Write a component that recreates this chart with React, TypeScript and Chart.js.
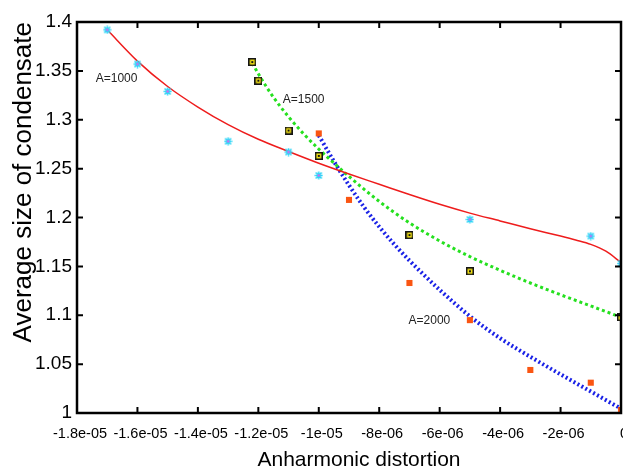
import { useEffect, useRef } from "react";
import { Chart, registerables } from "chart.js";

Chart.register(...registerables);

// ---- tick values / labels ----
const xTickValues = [-1.8e-5, -1.6e-5, -1.4e-5, -1.2e-5, -1e-5, -8e-6, -6e-6, -4e-6, -2e-6, 0];
const xTickLabels = ["-1.8e-05", "-1.6e-05", "-1.4e-05", "-1.2e-05", "-1e-05", "-8e-06", "-6e-06", "-4e-06", "-2e-06", "0"];
const yTickValues = [1, 1.05, 1.1, 1.15, 1.2, 1.25, 1.3, 1.35, 1.4];
const yTickLabels = ["1", "1.05", "1.1", "1.15", "1.2", "1.25", "1.3", "1.35", "1.4"];
const xTitle = "Anharmonic distortion";
const yTitle = "Average size of condensate";

// ---- measured points ----
const a1000X = [-17e-6, -16e-6, -15e-6, -13e-6, -11e-6, -10e-6, -5e-6, -1e-6, 0];
const a1000Y = [1.392, 1.357, 1.329, 1.278, 1.267, 1.243, 1.198, 1.181, 1.153];

const a1500X = [-12.2e-6, -12e-6, -11e-6, -10e-6, -7e-6, -5e-6, 0];
const a1500Y = [1.359, 1.34, 1.289, 1.263, 1.182, 1.145, 1.098];

const a2000X = [-10e-6, -9e-6, -7e-6, -5e-6, -3e-6, -1e-6, 0];
const a2000Y = [1.286, 1.218, 1.133, 1.095, 1.044, 1.031, 1.003];

// ---- fitted curves ----
const fit1000X = [-17e-6, -16e-6, -15e-6, -14e-6, -13e-6, -12e-6, -11e-6, -10e-6, -9e-6, -8e-6, -7e-6, -6e-6, -5e-6, -4e-6, -3e-6, -2e-6, -1.5e-6, -1e-6, -0.5e-6, 0];
const fit1000Y = [1.392, 1.36, 1.334, 1.313, 1.295, 1.28, 1.2675, 1.2555, 1.2445, 1.234, 1.2235, 1.2135, 1.2045, 1.1965, 1.1885, 1.181, 1.177, 1.1725, 1.1655, 1.154];

const fit1500X = [-12.2e-6, -12e-6, -11.5e-6, -11e-6, -10.5e-6, -10e-6, -9e-6, -8e-6, -7e-6, -6e-6, -5e-6, -4e-6, -3e-6, -2e-6, -1e-6, 0];
const fit1500Y = [1.358, 1.347, 1.323, 1.303, 1.2855, 1.27, 1.242, 1.2165, 1.1945, 1.176, 1.16, 1.146, 1.133, 1.121, 1.1095, 1.098];

const fit2000X = [-10e-6, -9.5e-6, -9e-6, -8.5e-6, -8e-6, -7.5e-6, -7e-6, -6e-6, -5e-6, -4e-6, -3e-6, -2e-6, -1e-6, 0];
const fit2000Y = [1.284, 1.2575, 1.233, 1.2105, 1.1905, 1.1725, 1.156, 1.126, 1.099, 1.0765, 1.0575, 1.0395, 1.022, 1.0045];

// ---- annotations ----
const noteTexts = ["A=1000", "A=1500", "A=2000"];
const noteX = [-17.38e-6, -11.19e-6, -7.03e-6];
const noteY = [1.3415, 1.321, 1.0946];

const FONT = "'Liberation Sans', Arial, Helvetica, sans-serif";

function pts(xs: number[], ys: number[]) {
  return xs.map((x, i) => ({ x, y: ys[i] }));
}

function makeAsterisk() {
  const c = document.createElement("canvas");
  c.width = 9;
  c.height = 9;
  const g = c.getContext("2d")!;
  g.strokeStyle = "#2fd6f7";
  g.lineWidth = 1.6;
  g.beginPath();
  g.moveTo(4.5, 0.5); g.lineTo(4.5, 8.5);
  g.moveTo(0.5, 4.5); g.lineTo(8.5, 4.5);
  g.moveTo(1.5, 1.5); g.lineTo(7.5, 7.5);
  g.moveTo(7.5, 1.5); g.lineTo(1.5, 7.5);
  g.stroke();
  g.fillStyle = "#ff48f0";
  g.fillRect(3.5, 3.5, 2, 2);
  return c;
}

function makeYellowSquare() {
  const c = document.createElement("canvas");
  c.width = 8;
  c.height = 8;
  const g = c.getContext("2d")!;
  g.fillStyle = "#151515";
  g.fillRect(0, 0, 8, 8);
  g.fillStyle = "#f4e313";
  g.fillRect(1.5, 1.5, 5, 5);
  g.fillStyle = "#151515";
  g.fillRect(3, 3, 2, 2);
  return c;
}

const framePlugin = {
  id: "frameTicks",
  afterDatasetsDraw(chart: any) {
    const { ctx, chartArea, scales } = chart;
    const { left, top, right, bottom } = chartArea;
    const xs = scales.x;
    const ys = scales.y;
    ctx.save();
    // annotations
    ctx.fillStyle = "#222";
    ctx.font = `12px ${FONT}`;
    ctx.textBaseline = "middle";
    ctx.textAlign = "left";
    noteTexts.forEach((t, i) => {
      ctx.fillText(t, xs.getPixelForValue(noteX[i]), ys.getPixelForValue(noteY[i]));
    });
    // x axis title
    ctx.fillStyle = "#000";
    ctx.font = `21px ${FONT}`;
    ctx.textAlign = "center";
    ctx.textBaseline = "alphabetic";
    ctx.fillText(xTitle, (left + right) / 2 + 10, chart.height - 1.5);
    // frame
    ctx.strokeStyle = "#000";
    ctx.lineWidth = 2.5;
    ctx.strokeRect(left, top, right - left, bottom - top);
    ctx.lineWidth = 2;
    ctx.beginPath();
    xs.ticks.forEach((t: any) => {
      const px = xs.getPixelForValue(t.value);
      ctx.moveTo(px, bottom);
      ctx.lineTo(px, bottom - 6);
      ctx.moveTo(px, top);
      ctx.lineTo(px, top + 6);
    });
    ys.ticks.forEach((t: any) => {
      const py = ys.getPixelForValue(t.value);
      ctx.moveTo(left, py);
      ctx.lineTo(left + 6, py);
      ctx.moveTo(right, py);
      ctx.lineTo(right - 6, py);
    });
    ctx.stroke();
    ctx.restore();
  },
};

export default function App() {
  const ref = useRef<HTMLCanvasElement | null>(null);

  useEffect(() => {
    if (!ref.current) return;
    const asterisk = makeAsterisk();
    const ysq = makeYellowSquare();
    const chart = new Chart(ref.current, {
      type: "scatter",
      data: {
        datasets: [
          {
            label: "A=1000 data",
            data: pts(a1000X, a1000Y),
            pointStyle: asterisk as any,
            pointRadius: 4,
            showLine: false,
            clip: 0,
          },
          {
            label: "A=1500 data",
            data: pts(a1500X, a1500Y),
            pointStyle: ysq as any,
            pointRadius: 4,
            showLine: false,
            clip: 0,
          },
          {
            label: "A=2000 data",
            data: pts(a2000X, a2000Y),
            pointStyle: "rect",
            pointRadius: 4.3,
            pointBackgroundColor: "#fa5512",
            pointBorderWidth: 0,
            showLine: false,
            clip: 0,
          },
          {
            label: "A=1000 fit",
            data: pts(fit1000X, fit1000Y),
            showLine: true,
            pointRadius: 0,
            borderColor: "#ee1c1c",
            borderWidth: 1.5,
            cubicInterpolationMode: "monotone",
            clip: 0,
          },
          {
            label: "A=1500 fit",
            data: pts(fit1500X, fit1500Y),
            showLine: true,
            pointRadius: 0,
            borderColor: "#25e01f",
            borderWidth: 3,
            borderDash: [3, 3],
            cubicInterpolationMode: "monotone",
            clip: 0,
          },
          {
            label: "A=2000 fit",
            data: pts(fit2000X, fit2000Y),
            showLine: true,
            pointRadius: 0,
            borderColor: "#1a22e6",
            borderWidth: 4,
            borderDash: [2, 2.5],
            cubicInterpolationMode: "monotone",
            clip: 0,
          },
        ],
      },
      options: {
        responsive: false,
        animation: false,
        layout: { autoPadding: false, padding: { left: 0, top: 22, right: 2, bottom: 0 } },
        plugins: {
          legend: { display: false },
          tooltip: { enabled: false },
        },
        scales: {
          x: {
            type: "linear",
            min: -1.8e-5,
            max: 0,
            afterBuildTicks: (s: any) => {
              s.ticks = xTickValues.map((v) => ({ value: v }));
            },
            afterFit: (s: any) => {
              s.height = 54;
              s.paddingLeft = 0;
              s.paddingRight = 0;
              if (s._margins) {
                s._margins.left = 0;
                s._margins.right = 0;
              }
            },
            grid: { display: false, drawTicks: false },
            border: { display: false },
            ticks: {
              padding: 12,
              labelOffset: 3,
              maxRotation: 0,
              autoSkip: false,
              color: "#000",
              font: { family: FONT, size: 14.5 },
              callback: (_v: any, i: number) => xTickLabels[i],
            },
            title: { display: false },
          },
          y: {
            type: "linear",
            min: 1,
            max: 1.4,
            afterBuildTicks: (s: any) => {
              s.ticks = yTickValues.map((v) => ({ value: v }));
            },
            afterFit: (s: any) => {
              s.width = 77;
              s.paddingTop = 0;
              s.paddingBottom = 0;
            },
            grid: { display: false, drawTicks: false },
            border: { display: false },
            ticks: {
              padding: 5,
              autoSkip: false,
              color: "#000",
              font: { family: FONT, size: 19 },
              callback: (_v: any, i: number) => yTickLabels[i],
            },
            title: {
              display: true,
              text: yTitle,
              align: "end",
              color: "#000",
              font: { family: FONT, size: 26, lineHeight: 1 },
              padding: { top: 11, bottom: 0 },
            },
          },
        },
      },
      plugins: [framePlugin],
    });
    return () => chart.destroy();
  }, []);

  return (
    <div style={{ position: "absolute", left: 0, top: 0, width: 623, height: 467 }}>
      <canvas ref={ref} width={623} height={467} />
    </div>
  );
}
